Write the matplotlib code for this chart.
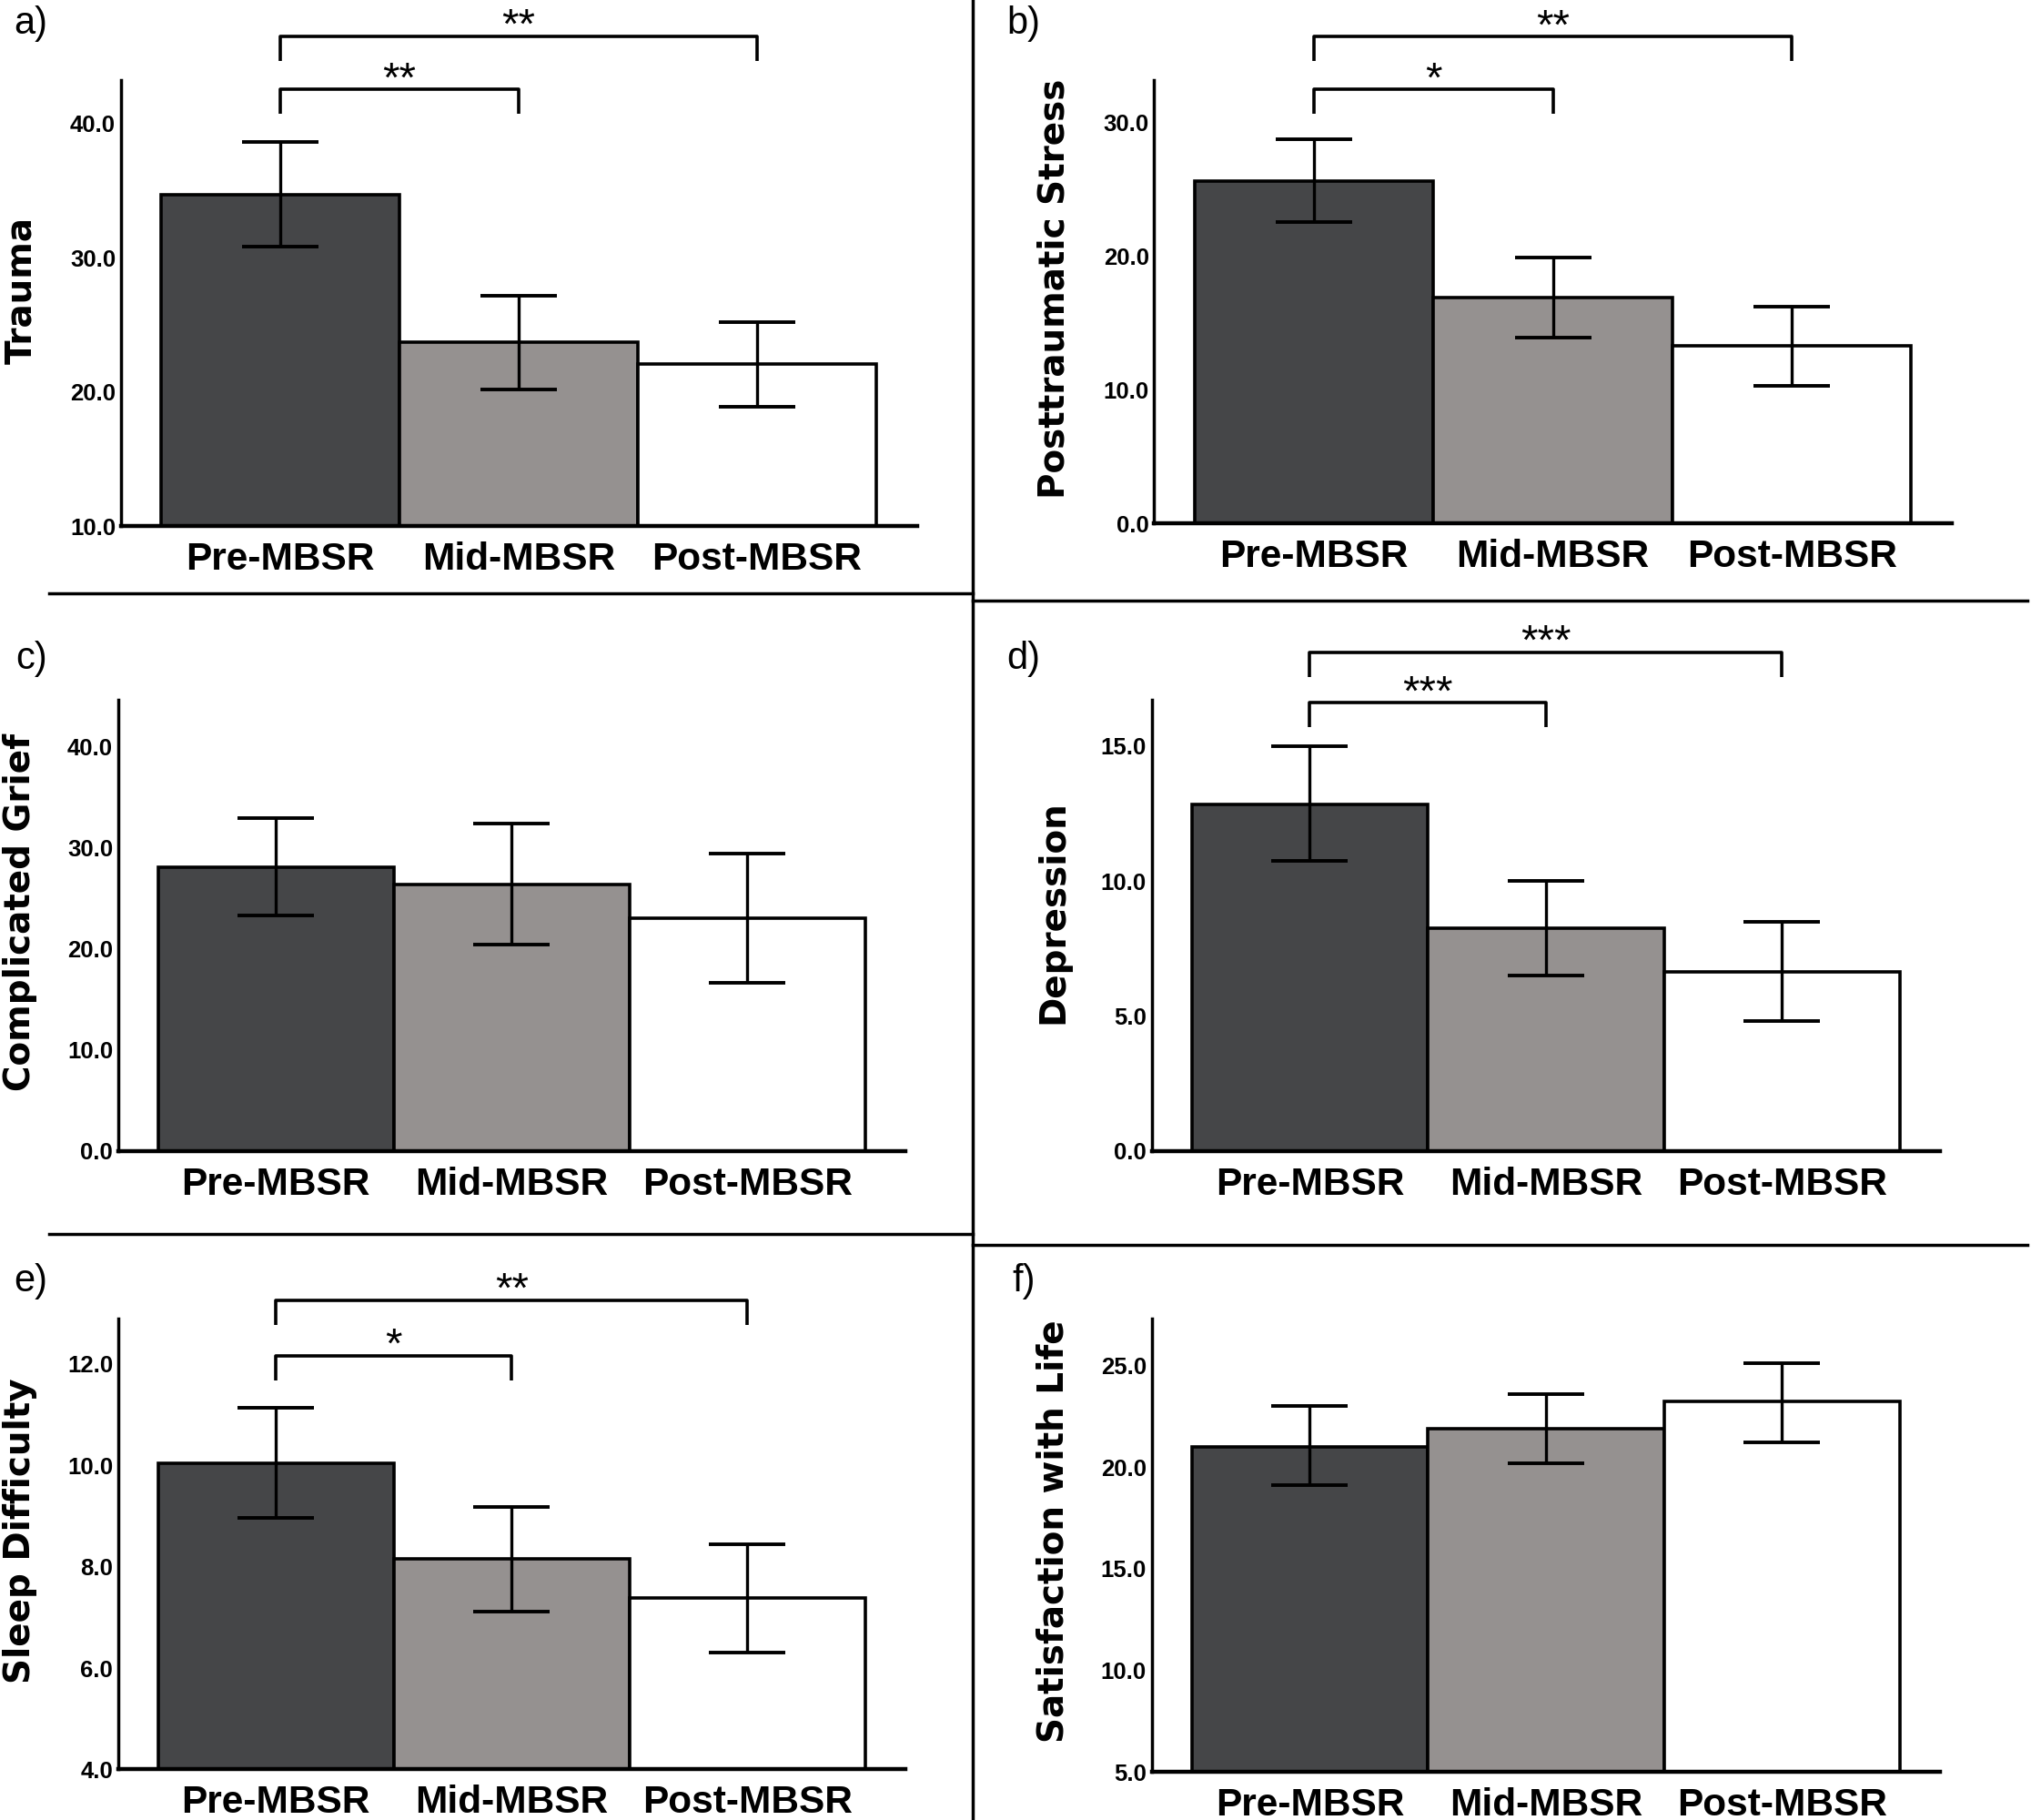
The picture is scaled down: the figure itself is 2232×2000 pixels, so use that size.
import numpy as np
import matplotlib
matplotlib.use('Agg')
import matplotlib.pyplot as plt
from matplotlib.lines import Line2D
import matplotlib.transforms as mtransforms

# dados
groups = ['Pre-MBSR', 'Mid-MBSR', 'Post-MBSR']

trauma_mean = [34.7, 23.7, 22.1]
trauma_lo = [30.8, 20.2, 18.9]
trauma_hi = [38.6, 27.2, 25.2]

ptsd_mean = [25.6, 16.9, 13.3]
ptsd_lo = [22.5, 13.9, 10.3]
ptsd_hi = [28.7, 19.9, 16.2]

grief_mean = [28.1, 26.4, 23.0]
grief_lo = [23.3, 20.4, 16.6]
grief_hi = [32.9, 32.4, 29.4]

dep_mean = [12.85, 8.25, 6.65]
dep_lo = [10.75, 6.5, 4.8]
dep_hi = [15.0, 10.0, 8.5]

sleep_mean = [10.05, 8.15, 7.39]
sleep_lo = [8.96, 7.11, 6.31]
sleep_hi = [11.14, 9.18, 8.45]

swl_mean = [21.0, 21.9, 23.2]
swl_lo = [19.1, 20.2, 21.2]
swl_hi = [23.0, 23.6, 25.1]

ylabels = ['Trauma', 'Posttraumatic Stress', 'Complicated Grief',
           'Depression', 'Sleep Difficulty', 'Satisfaction with Life']
letters = ['a)', 'b)', 'c)', 'd)', 'e)', 'f)']
yticks = [[10, 20, 30, 40], [0, 10, 20, 30], [0, 10, 20, 30, 40],
          [0, 5, 10, 15], [4, 6, 8, 10, 12], [5, 10, 15, 20, 25]]
ylims = [(10, 43.2), (0, 33.1), (0, 44.6), (0, 16.7), (4, 12.9), (5, 27.3)]

# comparacoes significativas: (grupo i, grupo j, estrelas)
sig_a = [(0, 1, '**'), (0, 2, '**')]
sig_b = [(0, 1, '*'), (0, 2, '**')]
sig_d = [(0, 1, '***'), (0, 2, '***')]
sig_e = [(0, 1, '*'), (0, 2, '**')]

means = [trauma_mean, ptsd_mean, grief_mean, dep_mean, sleep_mean, swl_mean]
los = [trauma_lo, ptsd_lo, grief_lo, dep_lo, sleep_lo, swl_lo]
his = [trauma_hi, ptsd_hi, grief_hi, dep_hi, sleep_hi, swl_hi]
sigs = [sig_a, sig_b, [], sig_d, sig_e, []]
# altura dos colchetes (fracao do eixo): inferior, superior
bracket_h = [(0.98, 1.099), (0.98, 1.099), None, (0.994, 1.106),
             (0.917, 1.04), None]

colors = ['#454648', '#959190', '#ffffff']

fig = plt.figure(figsize=(22.32, 20), dpi=100)

# posicoes dos paineis [left, bottom, width, height]
positions = [
    [0.0594, 0.7108, 0.392, 0.245],
    [0.5683, 0.7123, 0.3927, 0.2435],
    [0.0581, 0.3675, 0.3876, 0.2479],
    [0.5670, 0.3675, 0.3883, 0.2479],
    [0.0581, 0.0278, 0.3876, 0.2478],
    [0.5670, 0.0263, 0.3883, 0.2493],
]
letter_pos = [(0.0153, 0.987), (0.504, 0.987), (0.0153, 0.638),
              (0.504, 0.638), (0.0153, 0.296), (0.504, 0.296)]

x = np.arange(len(groups))

for k in range(6):
    ax = fig.add_axes(positions[k])
    m = np.array(means[k])
    yerr = [m - np.array(los[k]), np.array(his[k]) - m]
    ax.bar(x, m, width=1.0, color=colors, edgecolor='black', linewidth=2.6,
           zorder=2)
    ax.errorbar(x, m, yerr=yerr, fmt='none', ecolor='black', elinewidth=2.4,
                capsize=30, capthick=2.8, zorder=3)
    ax.set_xlim(-0.67, 2.67)
    ax.set_ylim(*ylims[k])
    ax.set_yticks(yticks[k])
    ax.set_yticklabels(['%.1f' % t for t in yticks[k]], fontsize=18.5,
                       fontweight='bold', family=['Liberation Sans Narrow', 'Liberation Sans', 'DejaVu Sans'])
    ax.set_xticks(x)
    ax.set_xticklabels(groups, fontsize=30.5, fontweight='bold',
                       family=['Liberation Sans', 'DejaVu Sans'])
    ax.tick_params(axis='both', length=0)
    ax.tick_params(axis='y', pad=4)
    ax.tick_params(axis='x', pad=12)
    for s in ['top', 'right']:
        ax.spines[s].set_visible(False)
    ax.spines['left'].set_linewidth(2.5)
    ax.spines['bottom'].set_linewidth(3.2)
    ax.set_ylabel(ylabels[k], fontsize=28, fontweight='bold',
                  family='DejaVu Sans', va='center')
    ax.yaxis.set_label_coords(-0.125, 0.53)

    trans = mtransforms.blended_transform_factory(ax.transData, ax.transAxes)
    for n, (i, j, stars) in enumerate(sigs[k]):
        yb = bracket_h[k][n]
        drop = 0.055
        ax.plot([i, i, j, j], [yb - drop, yb, yb, yb - drop], color='black',
                lw=2.6, transform=trans, clip_on=False, solid_capstyle='butt')
        ax.text((i + j) / 2, yb + 0.02, stars, transform=trans, ha='center',
                va='center', fontsize=34, family='Liberation Sans')

for k in range(6):
    fig.text(letter_pos[k][0], letter_pos[k][1], letters[k], fontsize=30,
             ha='center', va='center', family='Liberation Sans')

# linhas separadoras
line_kw = dict(color='black', lw=2.5, transform=fig.transFigure)
fig.add_artist(Line2D([0.479, 0.479], [0.0, 1.0], **line_kw))
fig.add_artist(Line2D([0.0243, 0.479], [0.674, 0.674], **line_kw))
fig.add_artist(Line2D([0.479, 0.998], [0.670, 0.670], **line_kw))
fig.add_artist(Line2D([0.0243, 0.479], [0.322, 0.322], **line_kw))
fig.add_artist(Line2D([0.479, 0.998], [0.316, 0.316], **line_kw))

fig.savefig('out.png', dpi=100, facecolor='white')
